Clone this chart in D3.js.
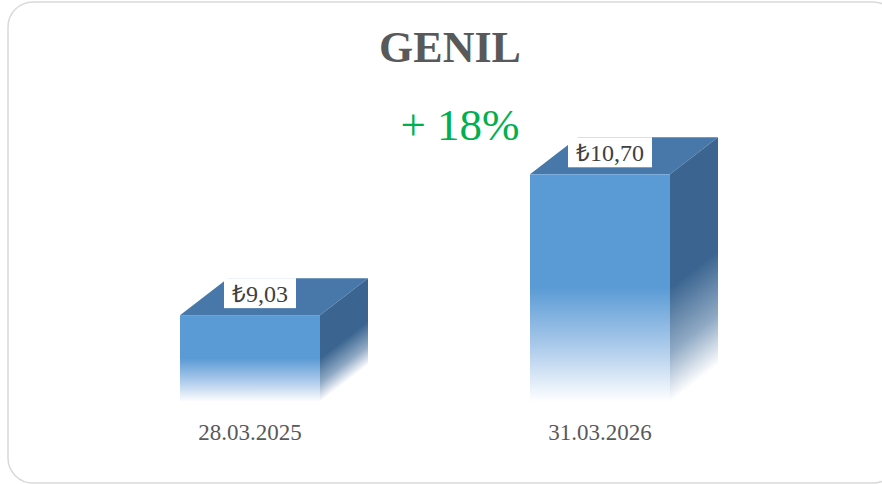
<!DOCTYPE html>
<html>
<head>
<meta charset="utf-8">
<style>
  body { margin: 0; background: #fff; }
  svg { display: block; }
</style>
</head>
<body>
<svg width="882" height="484"></svg>

<script src="https://d3js.org/d3.v7.min.js"></script>

<script>
    // chart values
    var categories = ["28.03.2025", "31.03.2026"];
    var prices = [9.03, 10.70];
    var priceLabels = ["₺9,03", "₺10,70"];
    var titleText = "GENIL";
    var changeText = "+ 18%";

    function makeBarChart() {
        var svg = d3.select("svg");

        // frame
        svg.append("rect")
            .attr("x", 8).attr("y", 2)
            .attr("width", 890).attr("height", 481)
            .attr("rx", 25)
            .attr("fill", "#fff")
            .attr("stroke", "#d9d9d9")
            .attr("stroke-width", 1.5);

        var x = d3.scaleBand()
            .domain(categories)
            .range([75, 775])
            .paddingInner(0.6)
            .paddingOuter(0.3);

        // value axis starts at 8, not zero
        var y = d3.scaleLinear()
            .domain([8, 11])
            .range([402, 149]);

        var depthX = 48, depthY = 37;
        var defs = svg.append("defs");

        var front = defs.append("linearGradient")
            .attr("id", "frontGrad")
            .attr("x1", 0).attr("y1", 0).attr("x2", 0).attr("y2", 1);
        front.append("stop").attr("offset", 0).attr("stop-color", "#5b9bd5");
        front.append("stop").attr("offset", 0.5).attr("stop-color", "#5b9bd5");
        front.append("stop").attr("offset", 0.75).attr("stop-color", "#a9c9ea");
        front.append("stop").attr("offset", 1).attr("stop-color", "#ffffff");

        var nlen = Math.sqrt(depthX * depthX + depthY * depthY);

        var bar = svg.selectAll(".bar")
            .data(prices)
            .enter().append("g")
            .attr("class", "bar");

        // side gradients follow the slanted bottom edge
        prices.forEach(function(v, i) {
            var sx = x(categories[i]) + x.bandwidth();
            var top = y(v), base = y.range()[0];
            var d = (base - top) * depthX / nlen;
            var g = defs.append("linearGradient")
                .attr("id", "sideGrad" + i)
                .attr("gradientUnits", "userSpaceOnUse")
                .attr("x1", sx).attr("y1", top)
                .attr("x2", sx + d * depthY / nlen)
                .attr("y2", top + d * depthX / nlen);
            g.append("stop").attr("offset", 0).attr("stop-color", "#3b6590");
            g.append("stop").attr("offset", 0.5).attr("stop-color", "#3b6590");
            g.append("stop").attr("offset", 0.78).attr("stop-color", "#8fa9c4");
            g.append("stop").attr("offset", 1).attr("stop-color", "#ffffff");
        });

        // top face
        bar.append("path")
            .attr("fill", "#4878a9")
            .attr("d", function(d, i) {
                var x0 = x(categories[i]), w = x.bandwidth(), t = y(d);
                return "M" + x0 + "," + t +
                    "L" + (x0 + depthX) + "," + (t - depthY) +
                    "L" + (x0 + w + depthX) + "," + (t - depthY) +
                    "L" + (x0 + w) + "," + t + "Z";
            });

        // side face
        bar.append("path")
            .attr("fill", function(d, i) { return "url(#sideGrad" + i + ")"; })
            .attr("d", function(d, i) {
                var x1 = x(categories[i]) + x.bandwidth(), t = y(d), b = y.range()[0];
                return "M" + x1 + "," + t +
                    "L" + (x1 + depthX) + "," + (t - depthY) +
                    "L" + (x1 + depthX) + "," + (b - depthY) +
                    "L" + x1 + "," + b + "Z";
            });

        // front face
        bar.append("rect")
            .attr("x", function(d, i) { return x(categories[i]); })
            .attr("y", function(d) { return y(d); })
            .attr("width", x.bandwidth())
            .attr("height", function(d) { return y.range()[0] - y(d); })
            .attr("fill", "url(#frontGrad)");

        // value labels
        var lab = bar.append("g")
            .attr("transform", function(d, i) {
                return "translate(" + (x(categories[i]) + x.bandwidth() / 2 + 10) + "," + (y(d) - 22) + ")";
            });
        lab.append("text")
            .attr("text-anchor", "middle")
            .attr("dy", "0.35em")
            .style("font-family", "'Liberation Serif', 'Times New Roman', serif")
            .style("font-size", "24px")
            .attr("fill", "#404040")
            .text(function(d, i) { return priceLabels[i]; });
        lab.each(function() {
            var g = d3.select(this);
            var bb = g.select("text").node().getBBox();
            g.insert("rect", "text")
                .attr("x", bb.x - 8).attr("y", -15)
                .attr("width", bb.width + 16).attr("height", 30)
                .attr("fill", "#fff");
        });

        // category labels
        svg.append("g").selectAll("text")
            .data(categories)
            .enter().append("text")
            .attr("x", function(d) { return x(d) + x.bandwidth() / 2; })
            .attr("y", 440)
            .attr("text-anchor", "middle")
            .style("font-family", "'Liberation Serif', 'Times New Roman', serif")
            .style("font-size", "23px")
            .attr("fill", "#595959")
            .text(function(d) { return d; });

        svg.append("text")
            .attr("x", 450).attr("y", 62)
            .attr("text-anchor", "middle")
            .style("font-family", "'Liberation Serif', 'Times New Roman', serif")
            .style("font-size", "44px")
            .style("font-weight", "bold")
            .attr("fill", "#595959")
            .text(titleText);

        svg.append("text")
            .attr("x", 460).attr("y", 140)
            .attr("text-anchor", "middle")
            .style("font-family", "'Liberation Serif', 'Times New Roman', serif")
            .style("font-size", "45px")
            .attr("fill", "#00b050")
            .text(changeText);
    }

    makeBarChart();
</script>
</body>
</html>
